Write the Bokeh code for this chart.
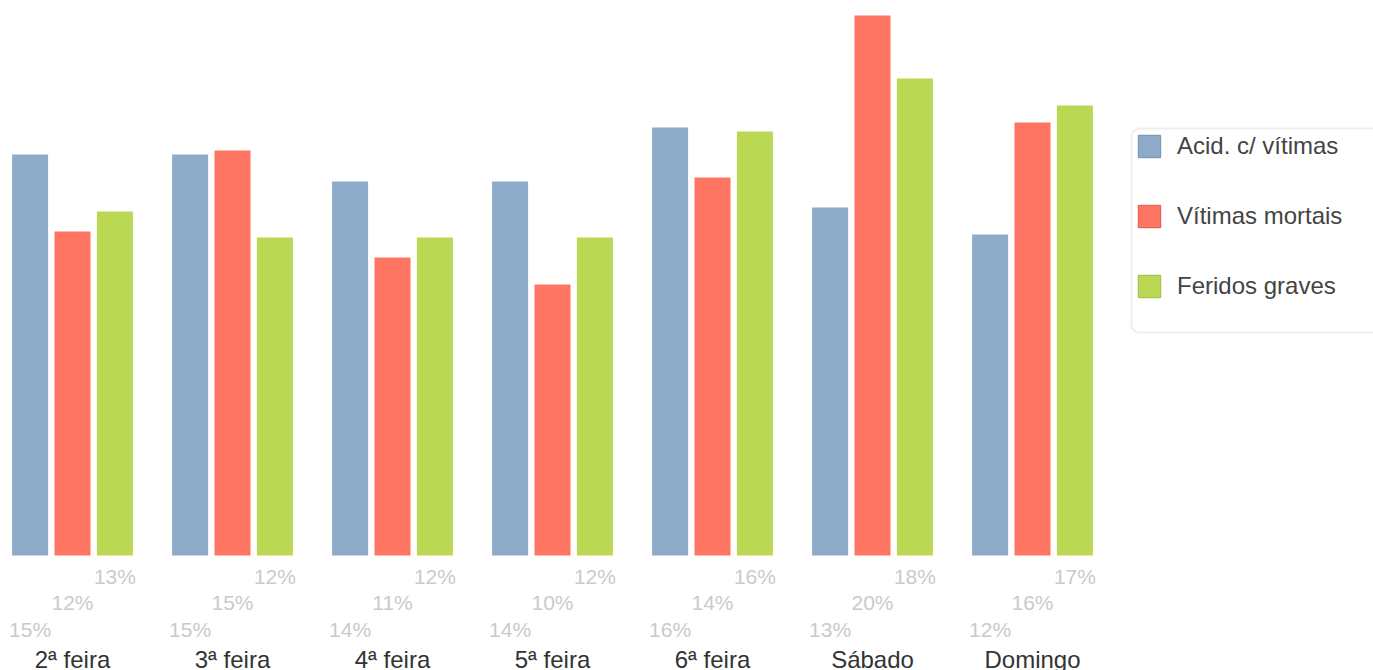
import numpy as np
from bokeh.plotting import figure
from bokeh.models import Range1d, ColumnDataSource, Legend, LegendItem, BoxAnnotation
from bokeh.core.properties import value
from bokeh.embed import file_html
from bokeh.resources import INLINE

categories = ["2ª feira", "3ª feira", "4ª feira", "5ª feira", "6ª feira", "Sábado", "Domingo"]
series_names = ["Acid. c/ vítimas", "Vítimas mortais", "Feridos graves"]
acid_vitimas = [14.85, 14.85, 13.85, 13.85, 15.85, 12.89, 11.89]
vitimas_mortais = [12.00, 15.00, 11.04, 10.04, 14.00, 20.00, 16.04]
feridos_graves = [12.74, 11.78, 11.78, 11.78, 15.70, 17.67, 16.67]

colors = ["#8EAAC9", "#FF7563", "#BBD854"]
edge_colors = ["#6F8FB5", "#E05545", "#9FBD3A"]
offsets = [-0.265, 0.0, 0.265]
label_offsets = [74, 47, 21]

FONT = value("Liberation Sans")
W, H = 1373, 670

p = figure(width=W, height=H,
           x_range=Range1d(-0.45, -0.45 + W / 160),
           y_range=Range1d(-115 / 27, 555 / 27),
           x_axis_type=None, y_axis_type=None,
           output_backend="svg", toolbar_location=None, min_border=0)
p.grid.visible = False
p.outline_line_color = None
p.background_fill_color = "white"
p.border_fill_color = "white"

idx = np.arange(len(categories))
legend_items = []
for vals, name, col, ecol, off, loff in zip(
        [acid_vitimas, vitimas_mortais, feridos_graves], series_names,
        colors, edge_colors, offsets, label_offsets):
    src = ColumnDataSource(dict(x=idx + off, top=vals,
                                lbl=[f"{round(v):d}%" for v in vals]))
    p.vbar(x="x", top="top", bottom=0, width=0.225, source=src,
           fill_color=col, line_color=col, line_width=0)
    p.text(x="x", y=0, text="lbl", source=src, y_offset=loff,
           text_align="center", text_baseline="alphabetic",
           text_font=FONT, text_font_size="21px", text_color="#CACACA")
    # legend-only swatch (not drawn in the plot area)
    dummy = p.vbar(x=[np.nan], top=[np.nan], width=0.2,
                   fill_color=col, line_color=ecol, line_width=1)
    legend_items.append(LegendItem(label=name, renderers=[dummy]))

cat_src = ColumnDataSource(dict(x=idx, y=np.zeros(len(categories)), t=categories))
p.text(x="x", y="y", text="t", source=cat_src, y_offset=104,
       text_align="center", text_baseline="alphabetic",
       text_font=FONT, text_font_size="24px", text_color="#333333")

frame_box = BoxAnnotation(left=-0.45 + 1131 / 160, right=9.5,
                          top=427 / 27, bottom=223 / 27,
                          fill_alpha=0, line_color="#C8C8C8", line_width=2,
                          border_radius=8)
p.add_layout(frame_box)

legend = Legend(items=legend_items, location=(1131, 366), padding=4, spacing=42,
                glyph_width=28, glyph_height=28, label_height=28, label_standoff=14,
                label_text_font="Liberation Sans", label_text_font_size="24px",
                label_text_color="#444444",
                border_line_alpha=0, background_fill_alpha=0)
p.add_layout(legend)

open("out.html", "w").write(file_html(p, INLINE))
